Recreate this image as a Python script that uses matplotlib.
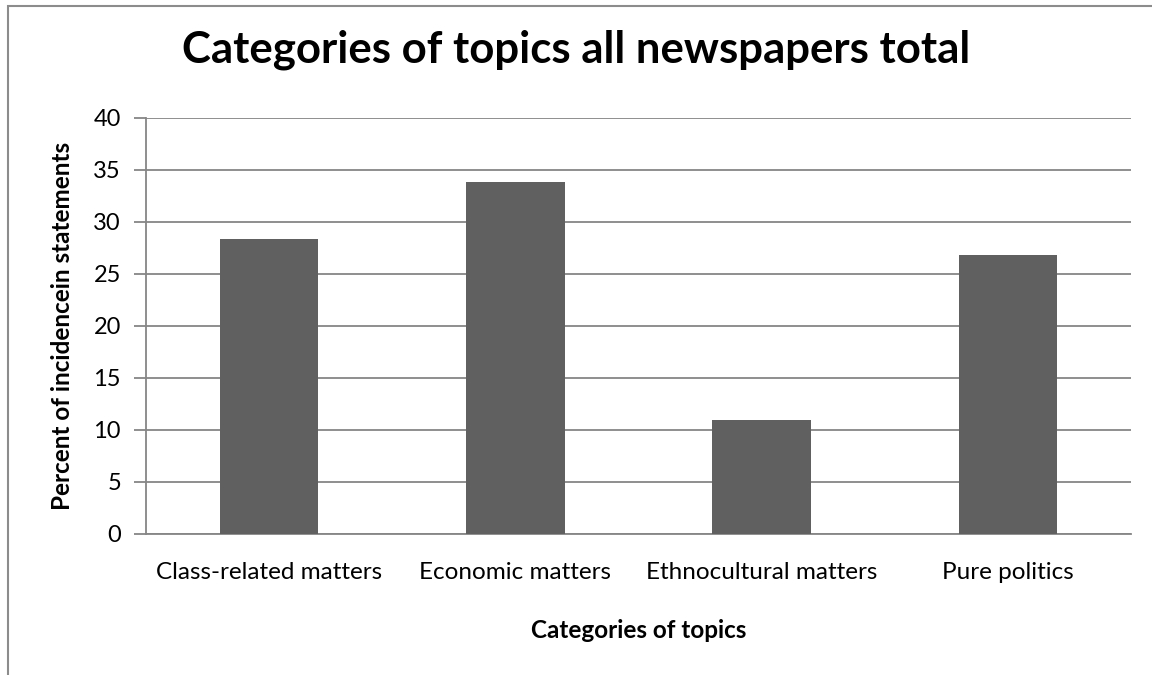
import matplotlib.pyplot as plt
from matplotlib.patches import Rectangle

# Data
categories = ['Class-related matters', 'Economic matters', 'Ethnocultural matters', 'Pure politics']
percent = [28.4, 33.8, 11.0, 26.8]
y_ticks = [0, 5, 10, 15, 20, 25, 30, 35, 40]

plt.rcParams['font.family'] = ['Lato', 'DejaVu Sans']

fig = plt.figure(figsize=(11.52, 6.75), dpi=100)
W, H = 1152, 675
# axes box in pixels: left 146, right 1131, top 118, bottom 534
ax = fig.add_axes([146 / W, 1 - 534 / H, (1131 - 146) / W, (534 - 118) / H])

grid_col = '#868686'
x = range(len(categories))
ax.bar(x, percent, width=0.4, color='#606060', zorder=3)

ax.set_xlim(-0.5, len(categories) - 0.5)
ax.set_ylim(0, 40)
ax.set_yticks(y_ticks)
ax.set_xticks(list(x))
ax.set_xticklabels(categories, fontsize=17.5)
ax.tick_params(axis='x', length=0, pad=20)
ax.tick_params(axis='y', length=9, width=1.3, color=grid_col, labelsize=17, pad=9)
ax.yaxis.grid(True, color=grid_col, linewidth=1.3, zorder=0)

for side in ['top', 'right']:
    ax.spines[side].set_visible(False)
for side in ['left', 'bottom']:
    ax.spines[side].set_color(grid_col)
    ax.spines[side].set_linewidth(1.3)

ax.set_xlabel('Categories of topics', fontsize=17.5, fontweight='bold', labelpad=26)
ax.set_ylabel('Percent of incidencein statements', fontsize=17.5, fontweight='bold', labelpad=14)

fig.text(576 / W, 1 - 50 / H, 'Categories of topics all newspapers total',
         ha='center', va='center', fontsize=31.5, fontweight='bold')

# chart area border (only top and left visible in the reference)
fig.patches.append(Rectangle((8 / W, -0.1), 1.2, 1 - 6 / H + 0.1, transform=fig.transFigure,
                             fill=False, edgecolor='#8c8c8c', linewidth=1.5))

fig.savefig('out.png', dpi=100)
